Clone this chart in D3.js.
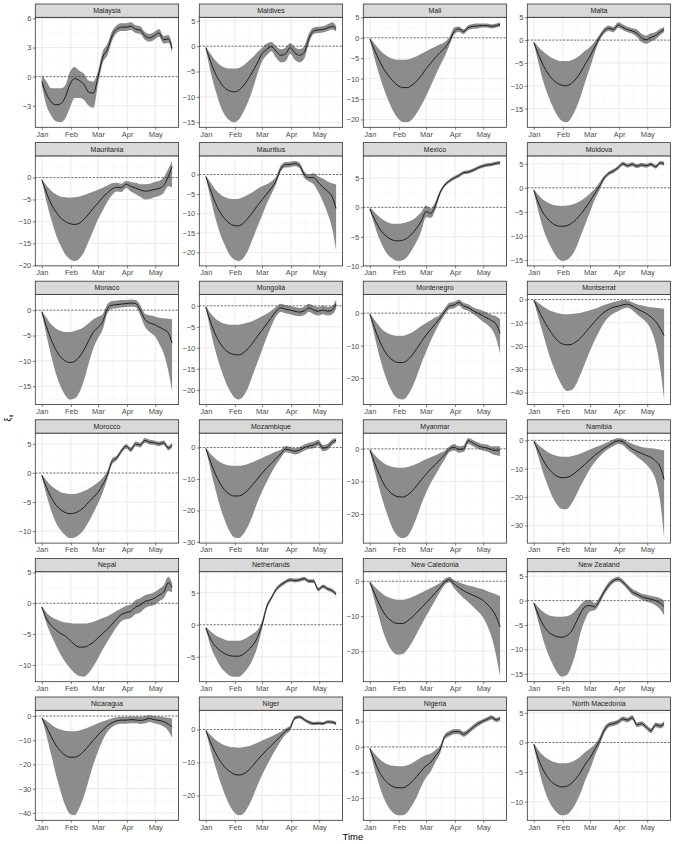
<!DOCTYPE html>
<html>
<head>
<meta charset="utf-8">
<script src="https://cdn.jsdelivr.net/npm/d3@7"></script>
<style>
    body { margin: 0; background: #ffffff; }
    svg { display: block; font-family: "Liberation Sans Narrow", "Liberation Sans", Arial, sans-serif; }
</style>
</head>
<body>
<div id="chart"></div>
<script>
// Days since 1 Jan 2020 at which the estimates were read off
const days = [0, 5, 10, 15, 20, 25, 30, 35, 40, 45, 50, 55, 60, 65, 70, 75, 80, 85, 90, 95, 100, 105, 110, 115, 120, 125, 130, 135, 139];

const countries = [
    'Malaysia', 'Maldives', 'Mali', 'Malta',
    'Mauritania', 'Mauritius', 'Mexico', 'Moldova',
    'Monaco', 'Mongolia', 'Montenegro', 'Montserrat',
    'Morocco', 'Mozambique', 'Myanmar', 'Namibia',
    'Nepal', 'Netherlands', 'New Caledonia', 'New Zealand',
    'Nicaragua', 'Niger', 'Nigeria', 'North Macedonia'
];

const yTickValues = [
    [-3, 0, 3, 6], [-15, -10, -5, 0, 5], [-20, -15, -10, -5, 0, 5], [-15, -10, -5, 0, 5],
    [-20, -15, -10, -5, 0], [-20, -15, -10, -5, 0], [-10, -5, 0, 5], [-15, -10, -5, 0, 5],
    [-15, -10, -5, 0], [-20, -15, -10, -5, 0], [-20, -10, 0], [-40, -30, -20, -10, 0],
    [-10, -5, 0, 5], [-30, -20, -10, 0], [-20, -10, 0], [-30, -20, -10, 0],
    [-10, -5, 0, 5], [-5, 0, 5], [-20, -10, 0], [-15, -10, -5, 0, 5],
    [-40, -30, -20, -10, 0], [-20, -10, 0], [-10, -5, 0, 5], [-10, -5, 0, 5]
];

const meanValues = [
    [-0.5, -1.8, -2.6, -2.9, -2.8, -2.1, -0.8, -0.2, -0.4, -0.8, -1.6, -1.7, 0.0, 2.0, 2.8, 4.2, 4.9, 5.1, 5.1, 5.2, 4.9, 4.8, 4.2, 4.0, 4.2, 4.5, 3.8, 3.9, 2.9],
    [-0.3, -3.0, -5.3, -7.0, -8.2, -8.8, -9.0, -8.7, -7.8, -6.5, -5.0, -3.3, -1.5, -0.6, -0.1, -1.0, -1.8, -1.5, -0.3, -1.3, -1.8, -1.2, 1.5, 3.0, 3.2, 3.3, 3.6, 3.9, 3.4],
    [-0.3, -3.0, -5.5, -7.7, -9.3, -10.7, -11.7, -12.2, -12.2, -11.6, -10.6, -9.2, -7.6, -6.2, -4.8, -3.6, -2.5, -0.8, 1.5, 2.2, 1.5, 2.5, 2.8, 2.9, 3.0, 3.0, 2.8, 3.0, 3.3],
    [-0.5, -3.2, -5.5, -7.3, -8.6, -9.4, -9.9, -10.0, -9.5, -8.5, -7.0, -5.2, -3.5, -1.5, 0.5, 2.0, 2.6, 2.3, 3.3, 2.8, 2.3, 2.0, 1.5, 0.5, 0.1, 0.6, 1.0, 1.8, 2.3],
    [-0.5, -3.5, -6.0, -7.8, -9.2, -10.0, -10.5, -10.7, -10.4, -9.5, -8.3, -7.0, -5.8, -4.5, -3.5, -2.6, -2.2, -2.3, -1.5, -2.0, -2.4, -2.8, -3.1, -3.0, -2.7, -2.5, -1.8, 0.2, 2.5],
    [-0.5, -4.0, -7.2, -9.6, -11.3, -12.5, -13.1, -13.2, -12.5, -11.2, -9.7, -8.0, -6.5, -5.0, -3.5, -1.5, 1.5, 2.5, 2.6, 2.8, 2.3, 0.0, -0.8, -0.8, -2.0, -3.3, -4.3, -5.8, -8.7],
    [-0.3, -2.0, -3.5, -4.5, -5.2, -5.6, -5.7, -5.6, -5.2, -4.5, -3.5, -2.3, -0.7, -1.0, 0.3, 2.5, 3.8, 4.5, 5.0, 5.4, 5.9, 6.0, 6.3, 6.7, 7.0, 7.2, 7.3, 7.5, 7.6],
    [-0.5, -3.2, -5.2, -6.5, -7.4, -7.9, -8.0, -7.9, -7.4, -6.6, -5.5, -4.2, -2.8, -1.2, 0.3, 2.0, 3.0, 3.5, 4.2, 5.0, 4.6, 4.9, 4.5, 4.8, 4.6, 4.9, 4.4, 5.2, 5.0],
    [-0.3, -3.3, -5.8, -7.8, -9.2, -10.0, -10.3, -10.1, -9.2, -7.8, -6.0, -4.3, -3.4, -2.3, 0.3, 1.0, 1.1, 1.2, 1.3, 1.4, 1.3, 0.0, -1.8, -2.5, -2.8, -3.3, -3.8, -4.5, -6.5],
    [-0.3, -3.8, -6.7, -8.8, -10.3, -11.2, -11.6, -11.7, -11.2, -10.2, -8.8, -7.3, -5.8, -4.3, -2.8, -1.3, -0.5, -0.8, -1.0, -1.3, -1.5, -1.2, -0.5, -1.0, -1.3, -1.0, -1.3, -1.0, 0.5],
    [-0.3, -4.5, -8.3, -11.3, -13.4, -14.6, -15.2, -15.2, -14.5, -13.0, -11.0, -8.8, -6.8, -5.0, -3.3, -1.5, 0.5, 2.2, 2.5, 3.3, 2.2, 1.7, 0.8, 0.0, -0.7, -1.5, -2.3, -3.5, -6.2],
    [-0.3, -4.5, -8.5, -12.0, -15.0, -17.5, -19.0, -19.5, -19.3, -18.2, -16.5, -14.2, -11.8, -9.5, -7.3, -5.5, -4.2, -3.3, -2.9, -2.3, -2.0, -2.8, -4.0, -5.0, -6.0, -7.5, -9.5, -12.5, -15.5],
    [-0.4, -2.5, -4.2, -5.5, -6.3, -6.8, -7.0, -6.9, -6.5, -5.9, -5.0, -4.2, -3.3, -2.0, -0.3, 2.0, 2.6, 3.8, 4.6, 4.0, 5.0, 4.8, 5.6, 5.3, 5.2, 5.0, 5.2, 4.3, 4.8],
    [-0.3, -4.5, -8.3, -11.3, -13.5, -14.8, -15.4, -15.4, -14.8, -13.5, -11.8, -10.0, -8.2, -6.5, -5.0, -3.5, -2.0, -0.5, -0.8, -1.2, -0.8, 0.0, 0.5, 0.8, 1.5, -0.2, 0.2, 1.8, 2.3],
    [-0.3, -4.2, -7.8, -10.8, -12.8, -14.1, -14.7, -14.8, -14.2, -13.0, -11.3, -9.5, -7.8, -6.2, -4.8, -3.3, -1.8, 0.0, 0.5, -0.2, 0.0, 2.5, 1.8, 1.0, 0.5, 0.3, -0.3, -0.5, -0.3],
    [-0.3, -3.8, -7.0, -9.6, -11.5, -12.7, -13.2, -13.1, -12.4, -11.2, -9.8, -8.3, -6.8, -5.3, -4.0, -2.8, -1.8, -0.8, -0.2, -0.5, -1.8, -3.0, -3.9, -4.6, -5.3, -6.0, -7.3, -9.5, -13.8],
    [-0.6, -2.5, -3.6, -4.3, -4.9, -5.3, -6.0, -6.7, -7.1, -7.1, -6.8, -6.3, -5.6, -4.9, -4.2, -3.4, -2.5, -1.8, -1.5, -1.3, -0.6, -0.3, 0.3, 0.5, 0.8, 1.3, 1.8, 3.3, 2.6],
    [-0.5, -2.2, -3.3, -4.0, -4.5, -4.8, -4.9, -4.9, -4.6, -4.0, -3.2, -2.0, 0.0, 2.8, 4.2, 5.5, 6.2, 6.7, 7.0, 6.9, 7.0, 7.2, 6.8, 6.8, 5.5, 6.0, 5.6, 5.3, 4.8],
    [-0.3, -3.5, -6.5, -9.0, -10.7, -11.7, -12.1, -12.1, -11.4, -10.3, -9.0, -7.6, -6.2, -4.8, -3.3, -1.8, -0.2, 0.5, -0.8, -1.8, -2.7, -3.4, -4.0, -4.6, -5.3, -6.5, -8.0, -10.2, -13.0],
    [-0.5, -3.0, -5.0, -6.3, -7.0, -7.4, -7.5, -7.2, -6.3, -4.5, -2.5, -1.2, -1.0, -1.3, 0.0, 1.8, 3.2, 4.1, 4.4, 3.8, 2.8, 1.8, 1.3, 0.8, 0.5, 0.3, 0.0, -0.5, -1.2],
    [-0.8, -4.5, -8.5, -12.0, -14.5, -16.2, -17.0, -17.0, -16.2, -14.5, -12.3, -10.0, -7.8, -5.8, -4.0, -2.8, -2.0, -1.7, -1.7, -1.5, -1.6, -1.8, -1.5, -1.0, -1.5, -1.8, -2.3, -3.3, -4.5],
    [-0.3, -3.8, -6.9, -9.4, -11.3, -12.6, -13.5, -13.8, -13.5, -12.5, -11.0, -9.3, -7.7, -6.2, -4.8, -3.4, -2.0, -0.5, 0.5, 3.5, 3.8, 3.0, 2.2, 1.8, 1.9, 1.8, 2.3, 2.2, 1.8],
    [-0.3, -2.8, -4.8, -6.3, -7.2, -7.8, -8.0, -8.0, -7.6, -6.8, -5.8, -4.7, -3.7, -3.0, -1.8, -0.5, 2.0, 2.6, 3.0, 3.0, 2.5, 3.0, 3.8, 4.5, 5.0, 5.4, 5.8, 5.3, 5.6],
    [-0.3, -2.8, -4.6, -5.9, -6.8, -7.3, -7.5, -7.4, -6.9, -6.1, -5.0, -3.6, -2.6, -1.2, 0.2, 2.0, 3.0, 3.2, 3.5, 4.0, 3.8, 4.2, 3.0, 3.2, 2.6, 2.0, 3.0, 2.8, 3.2]
];

const lowerValues = [
    [-0.9, -3.0, -4.0, -4.6, -4.7, -4.3, -3.2, -2.2, -2.2, -2.4, -3.0, -3.2, -0.8, 1.4, 2.2, 3.7, 4.5, 4.7, 4.7, 4.8, 4.5, 4.4, 3.8, 3.6, 3.8, 4.1, 3.4, 3.5, 2.5],
    [-0.5, -5.0, -8.5, -11.5, -13.5, -14.6, -15.0, -14.5, -13.0, -11.0, -8.5, -5.5, -3.0, -1.8, -1.0, -2.3, -3.2, -3.0, -1.5, -2.7, -3.2, -2.5, 0.5, 2.4, 2.6, 2.7, 3.0, 3.3, 2.9],
    [-0.5, -5.0, -9.0, -12.5, -15.5, -18.0, -19.7, -20.6, -20.7, -20.0, -18.5, -16.5, -14.3, -11.8, -9.3, -6.8, -4.5, -1.8, 0.8, 1.5, 0.9, 1.9, 2.2, 2.3, 2.5, 2.5, 2.3, 2.5, 2.8],
    [-0.7, -5.0, -9.0, -12.0, -14.5, -16.5, -17.7, -18.0, -17.0, -15.0, -12.3, -9.0, -6.0, -2.8, -0.2, 1.4, 2.0, 1.7, 2.7, 2.2, 1.7, 1.4, 0.7, -0.4, -0.8, -0.3, 0.2, 1.1, 1.8],
    [-0.6, -5.5, -9.5, -13.0, -15.5, -17.5, -18.6, -19.0, -18.5, -17.0, -14.5, -12.0, -9.5, -7.5, -5.5, -4.0, -3.2, -3.3, -2.4, -3.2, -3.8, -4.4, -5.0, -4.9, -4.5, -4.2, -3.5, -2.0, -2.3],
    [-0.7, -6.0, -11.0, -15.0, -18.0, -20.5, -21.8, -22.2, -21.5, -19.5, -16.5, -13.5, -10.5, -7.5, -5.0, -2.5, 0.8, 1.8, 1.9, 2.1, 1.6, -0.9, -1.8, -2.5, -4.5, -7.0, -10.0, -14.0, -19.5],
    [-0.5, -3.0, -5.3, -7.0, -8.2, -8.8, -9.1, -9.0, -8.4, -7.2, -5.8, -4.0, -1.7, -1.8, -0.4, 2.1, 3.5, 4.2, 4.7, 5.1, 5.6, 5.7, 6.0, 6.4, 6.7, 6.9, 7.0, 7.2, 7.3],
    [-0.7, -5.0, -8.5, -11.0, -13.0, -14.5, -15.2, -15.0, -14.2, -12.5, -10.0, -7.5, -5.0, -2.5, -0.5, 1.5, 2.6, 3.1, 3.8, 4.6, 4.2, 4.5, 4.1, 4.4, 4.2, 4.5, 4.0, 4.8, 4.6],
    [-0.5, -5.0, -9.0, -12.5, -15.0, -16.8, -17.6, -17.4, -16.2, -13.8, -10.5, -7.5, -5.5, -3.8, -0.6, 0.3, 0.4, 0.5, 0.6, 0.7, 0.6, -1.0, -3.2, -4.3, -5.0, -6.5, -8.5, -12.0, -16.0],
    [-0.5, -5.8, -10.5, -14.3, -17.5, -20.0, -21.7, -22.3, -21.5, -19.5, -16.5, -13.5, -10.5, -7.5, -4.8, -2.5, -1.4, -1.8, -2.0, -2.3, -2.5, -2.2, -1.5, -2.0, -2.3, -2.0, -2.3, -2.0, -0.7],
    [-0.5, -7.0, -13.0, -18.0, -22.0, -24.8, -26.3, -26.6, -25.5, -23.0, -19.5, -15.5, -12.0, -8.5, -5.5, -2.8, -0.5, 1.2, 1.5, 2.3, 1.2, 0.7, -0.3, -1.3, -2.5, -3.5, -5.0, -8.0, -12.5],
    [-0.5, -8.0, -15.0, -22.0, -28.0, -33.0, -37.0, -39.3, -39.0, -36.5, -32.0, -27.0, -22.0, -17.5, -13.5, -10.0, -7.5, -6.0, -5.0, -4.0, -3.5, -4.5, -6.3, -8.0, -9.8, -13.0, -19.0, -30.0, -43.0],
    [-0.6, -3.8, -6.5, -8.5, -9.8, -10.7, -11.2, -11.1, -10.6, -9.7, -8.4, -6.9, -5.2, -3.3, -1.0, 1.5, 2.2, 3.4, 4.2, 3.6, 4.6, 4.4, 5.2, 4.9, 4.8, 4.6, 4.8, 3.9, 4.4],
    [-0.5, -7.0, -13.0, -18.5, -23.0, -26.5, -28.5, -28.8, -27.5, -25.0, -21.5, -17.5, -14.0, -11.0, -8.0, -5.5, -3.3, -1.5, -1.8, -2.2, -1.8, -1.0, -0.5, -0.2, 0.5, -1.2, -0.8, 0.8, 1.5],
    [-0.5, -6.5, -12.0, -17.0, -21.3, -24.8, -26.8, -27.4, -26.8, -24.5, -21.0, -17.0, -13.5, -10.5, -8.0, -5.5, -3.2, -1.0, -0.5, -1.2, -1.0, 1.5, 0.8, 0.0, -0.5, -0.8, -1.5, -2.0, -2.2],
    [-0.5, -6.0, -11.5, -16.0, -20.0, -22.8, -24.2, -24.3, -22.5, -19.5, -16.0, -13.0, -10.0, -7.7, -5.8, -4.2, -3.0, -2.0, -1.3, -1.7, -3.2, -4.5, -5.8, -7.0, -8.5, -10.5, -14.0, -22.0, -34.5],
    [-0.8, -3.3, -5.2, -6.8, -8.3, -9.5, -10.5, -11.3, -11.8, -11.9, -11.3, -10.2, -8.9, -7.5, -6.2, -5.0, -3.8, -2.9, -2.6, -2.4, -1.8, -1.5, -0.8, -0.5, -0.3, 0.3, 0.8, 2.0, 1.8],
    [-0.7, -3.3, -5.0, -6.4, -7.3, -7.9, -8.1, -8.1, -7.6, -6.7, -5.4, -3.5, -0.6, 2.4, 3.9, 5.2, 5.9, 6.4, 6.7, 6.6, 6.7, 6.9, 6.5, 6.5, 5.2, 5.7, 5.3, 5.0, 4.5],
    [-0.5, -5.5, -10.5, -15.0, -18.3, -20.3, -21.0, -20.8, -19.5, -17.5, -15.0, -12.5, -10.0, -7.7, -5.3, -3.0, -1.0, -0.3, -2.0, -3.5, -4.8, -6.0, -7.2, -8.5, -10.0, -12.5, -16.0, -21.5, -27.3],
    [-0.7, -4.5, -8.0, -10.8, -13.0, -14.8, -15.6, -15.3, -13.5, -10.5, -6.5, -3.8, -2.2, -2.0, -0.7, 1.2, 2.6, 3.6, 3.9, 3.3, 2.3, 1.2, 0.7, 0.2, -0.2, -0.5, -1.0, -1.8, -3.0],
    [-1.0, -8.0, -16.0, -24.0, -31.0, -37.0, -40.5, -41.0, -38.0, -33.0, -26.5, -20.0, -14.5, -10.0, -6.5, -4.5, -3.5, -3.2, -3.2, -3.0, -3.0, -3.3, -3.0, -2.5, -3.0, -3.5, -4.3, -6.2, -9.0],
    [-0.5, -6.0, -11.0, -15.5, -19.5, -22.8, -25.0, -26.0, -25.5, -23.5, -20.5, -17.0, -13.8, -11.0, -8.3, -5.8, -3.5, -1.5, -0.3, 2.9, 3.3, 2.5, 1.7, 1.3, 1.4, 1.3, 1.8, 1.7, 1.3],
    [-0.5, -4.3, -7.5, -10.0, -11.8, -12.9, -13.4, -13.4, -12.8, -11.5, -9.8, -7.7, -6.0, -4.8, -3.0, -1.3, 1.5, 2.1, 2.5, 2.5, 2.0, 2.5, 3.3, 4.0, 4.6, 5.0, 5.4, 4.9, 5.2],
    [-0.5, -4.3, -7.3, -9.5, -11.0, -11.9, -12.3, -12.2, -11.5, -10.2, -8.5, -6.3, -4.5, -2.3, -0.5, 1.5, 2.6, 2.8, 3.1, 3.6, 3.4, 3.8, 2.6, 2.8, 2.2, 1.6, 2.6, 2.4, 2.8]
];

const upperValues = [
    [0.2, -0.5, -1.2, -1.2, -1.2, -0.9, 0.5, 1.0, 0.6, 0.3, -0.4, -0.5, 0.6, 2.6, 3.4, 4.7, 5.3, 5.5, 5.5, 5.6, 5.3, 5.2, 4.6, 4.4, 4.6, 4.9, 4.2, 4.3, 3.3],
    [0.0, -1.5, -2.8, -3.7, -4.2, -4.4, -4.4, -4.3, -3.8, -3.0, -2.2, -1.2, -0.3, 0.5, 0.8, 0.0, -0.6, -0.3, 0.6, -0.2, -0.6, 0.0, 2.5, 3.7, 3.8, 3.9, 4.3, 4.7, 4.0],
    [0.0, -1.4, -2.8, -3.9, -4.7, -5.2, -5.4, -5.4, -5.3, -5.0, -4.5, -3.9, -3.3, -2.7, -2.1, -1.6, -1.0, 0.2, 2.5, 2.8, 2.1, 3.1, 3.4, 3.5, 3.5, 3.5, 3.3, 3.5, 3.8],
    [-0.3, -1.5, -2.5, -3.3, -4.0, -4.4, -4.6, -4.6, -4.4, -3.9, -3.2, -2.3, -1.5, -0.3, 1.2, 2.6, 3.2, 2.9, 3.9, 3.4, 2.9, 2.6, 2.3, 1.4, 1.0, 1.5, 1.8, 2.5, 2.8],
    [-0.3, -1.8, -3.0, -3.8, -4.3, -4.5, -4.6, -4.5, -4.3, -4.0, -3.6, -3.2, -2.8, -2.3, -1.8, -1.3, -1.2, -1.4, -0.8, -1.0, -1.2, -1.5, -1.5, -1.4, -1.0, -0.8, 0.0, 2.0, 3.8],
    [-0.3, -2.0, -3.8, -5.0, -5.8, -6.2, -6.3, -6.2, -5.8, -5.2, -4.5, -3.7, -3.0, -2.5, -1.8, -0.5, 2.3, 3.2, 3.3, 3.5, 3.0, 0.8, 0.0, 0.3, -0.5, -1.0, -1.8, -2.3, -2.5],
    [0.0, -0.8, -1.6, -2.2, -2.6, -2.8, -2.8, -2.7, -2.5, -2.2, -1.6, -0.8, 0.3, -0.2, 1.0, 2.9, 4.1, 4.8, 5.3, 5.7, 6.2, 6.3, 6.6, 7.0, 7.3, 7.5, 7.6, 7.8, 7.9],
    [-0.3, -1.5, -2.5, -3.1, -3.5, -3.7, -3.8, -3.7, -3.5, -3.2, -2.7, -2.0, -1.2, -0.2, 1.1, 2.5, 3.4, 3.9, 4.6, 5.4, 5.0, 5.3, 4.9, 5.2, 5.0, 5.3, 4.8, 5.6, 5.4],
    [-0.2, -1.5, -2.8, -3.6, -4.1, -4.3, -4.3, -4.1, -3.8, -3.3, -2.6, -1.8, -1.3, -0.8, 1.2, 1.8, 1.9, 2.0, 2.0, 2.1, 2.0, 1.0, -0.7, -1.0, -1.2, -1.5, -1.6, -1.7, -1.8],
    [0.0, -1.8, -3.0, -3.8, -4.3, -4.5, -4.5, -4.5, -4.3, -4.0, -3.6, -3.1, -2.5, -1.9, -1.2, -0.2, 0.5, 0.2, 0.0, -0.3, -0.5, -0.2, 0.5, 0.0, -0.3, 0.0, -0.3, 0.0, 1.5],
    [0.0, -2.0, -4.0, -5.5, -6.3, -6.8, -7.0, -7.0, -6.6, -6.0, -5.0, -4.0, -3.0, -2.2, -1.3, -0.4, 1.5, 3.2, 3.5, 4.2, 3.2, 2.7, 1.8, 1.3, 0.8, 0.2, -0.5, -1.0, -1.8],
    [-0.1, -1.5, -3.0, -4.3, -5.2, -5.8, -6.2, -6.3, -6.2, -6.0, -5.7, -5.2, -4.6, -4.0, -3.2, -2.4, -1.7, -1.1, -0.6, -0.2, -0.3, -1.2, -2.0, -2.5, -3.0, -3.3, -3.6, -3.8, -4.0],
    [-0.2, -1.3, -2.2, -2.8, -3.3, -3.5, -3.6, -3.6, -3.4, -3.1, -2.7, -2.2, -1.6, -0.8, 0.4, 2.5, 3.0, 4.2, 5.0, 4.4, 5.4, 5.2, 6.0, 5.7, 5.6, 5.4, 5.6, 4.7, 5.2],
    [0.0, -2.0, -3.5, -4.6, -5.3, -5.7, -5.8, -5.8, -5.6, -5.2, -4.6, -4.0, -3.3, -2.6, -2.0, -1.3, -0.7, 0.5, 0.2, -0.2, 0.2, 1.0, 1.5, 1.8, 2.5, 0.8, 1.2, 2.6, 3.0],
    [0.0, -1.8, -3.3, -4.4, -5.2, -5.6, -5.8, -5.8, -5.6, -5.2, -4.6, -3.9, -3.2, -2.6, -2.0, -1.3, -0.6, 0.8, 1.5, 0.8, 1.0, 3.3, 2.7, 2.0, 1.5, 1.3, 0.8, 0.8, 0.8],
    [0.0, -1.6, -3.0, -4.2, -5.0, -5.5, -5.8, -5.8, -5.6, -5.2, -4.6, -3.9, -3.2, -2.5, -1.9, -1.2, -0.5, 0.3, 0.8, 0.6, -0.5, -1.2, -1.8, -2.3, -2.6, -2.8, -3.0, -3.3, -3.5],
    [-0.4, -1.5, -2.2, -2.6, -2.9, -3.1, -3.2, -3.3, -3.3, -3.3, -3.2, -3.0, -2.7, -2.4, -2.1, -1.7, -1.2, -0.8, -0.4, -0.2, 0.5, 0.8, 1.3, 1.5, 1.8, 2.3, 2.9, 4.3, 3.3],
    [-0.3, -1.0, -1.6, -2.0, -2.3, -2.5, -2.5, -2.5, -2.3, -1.9, -1.4, -0.8, 0.6, 3.2, 4.5, 5.8, 6.5, 7.0, 7.3, 7.2, 7.3, 7.5, 7.1, 7.1, 5.8, 6.3, 5.9, 5.6, 5.1],
    [0.0, -1.5, -2.8, -3.9, -4.6, -5.1, -5.3, -5.3, -5.0, -4.5, -3.9, -3.3, -2.6, -1.9, -1.2, -0.5, 0.7, 1.3, 0.3, -0.3, -0.8, -1.2, -1.5, -1.9, -2.2, -2.8, -3.3, -3.8, -4.2],
    [-0.3, -1.4, -2.3, -2.9, -3.2, -3.3, -3.3, -3.2, -2.8, -1.9, -0.8, 0.0, 0.2, -0.5, 0.7, 2.4, 3.8, 4.6, 4.9, 4.3, 3.3, 2.4, 1.9, 1.4, 1.2, 1.0, 0.8, 0.5, 0.0],
    [-0.6, -2.0, -3.5, -4.8, -5.6, -6.1, -6.3, -6.3, -6.0, -5.4, -4.6, -3.8, -3.0, -2.3, -1.5, -0.9, -0.5, -0.3, -0.3, -0.2, -0.2, -0.3, 0.0, 0.3, 0.0, -0.2, -0.5, -0.7, -1.0],
    [0.0, -1.7, -3.0, -4.0, -4.8, -5.2, -5.4, -5.5, -5.4, -5.1, -4.6, -4.0, -3.3, -2.7, -2.1, -1.4, -0.7, 0.3, 1.2, 4.0, 4.3, 3.5, 2.7, 2.3, 2.4, 2.3, 2.8, 2.7, 2.3],
    [-0.1, -1.3, -2.3, -3.0, -3.5, -3.7, -3.8, -3.8, -3.6, -3.2, -2.6, -2.0, -1.6, -1.3, -0.6, 0.3, 2.5, 3.1, 3.5, 3.5, 3.0, 3.5, 4.3, 5.0, 5.4, 5.8, 6.2, 5.7, 6.0],
    [-0.1, -1.3, -2.2, -2.8, -3.2, -3.4, -3.5, -3.5, -3.3, -2.9, -2.3, -1.6, -1.0, -0.3, 0.9, 2.6, 3.4, 3.6, 3.9, 4.4, 4.2, 4.6, 3.4, 3.6, 3.0, 2.4, 3.4, 3.2, 3.6]
];

// Layout of the facet grid, in pixels
const COLUMNS = 4;
const PANEL_LEFT = 35.3;
const PANEL_STEP_X = 164;
const PANEL_WIDTH = 143.3;
const PANEL_TOP = 4;
const PANEL_STEP_Y = 138.6;
const PANEL_HEIGHT = 123.3;
const STRIP_HEIGHT = 13.3;
const START_DATE = new Date(Date.UTC(2020, 0, 1));

class FacetChart {

    init() {
        this.svg = d3.select('#chart').append('svg')
            .attr('width', 675)
            .attr('height', 844);
        this.x = this.createTimeScale();
    }

    draw() {
        countries.forEach((name, i) => this.drawPanel(i));
        this.drawAxisTitles();
    }

    dayToDate(day) {
        return d3.utcDay.offset(START_DATE, day);
    }

    createTimeScale() {
        const first = days[0];
        const last = days[days.length - 1];
        const pad = (last - first) * 0.05;
        return d3.scaleUtc()
            .domain([first - pad, last + pad].map(d => new Date(START_DATE.getTime() + d * 864e5)))
            .range([0, PANEL_WIDTH]);
    }

    createValueScale(index) {
        // ggplot trains the scale on the ribbon and the hline at zero
        const lo = Math.min(0, d3.min(lowerValues[index]));
        const hi = Math.max(0, d3.max(upperValues[index]));
        const pad = (hi - lo) * 0.05;
        return d3.scaleLinear()
            .domain([lo - pad, hi + pad])
            .range([PANEL_HEIGHT, STRIP_HEIGHT]);
    }

    minorBreaks(ticks, domain) {
        const step = ticks[1] - ticks[0];
        const candidates = [ticks[0] - step / 2, ...ticks.map(t => t + step / 2)];
        return candidates.filter(v => v > domain[0] && v < domain[1]);
    }

    drawPanel(index) {
        const col = index % COLUMNS;
        const row = Math.floor(index / COLUMNS);
        const g = this.svg.append('g')
            .attr('transform', `translate(${PANEL_LEFT + col * PANEL_STEP_X},${PANEL_TOP + row * PANEL_STEP_Y})`);
        const y = this.createValueScale(index);

        this.drawGrid(g, y, yTickValues[index]);
        this.drawSeries(g, y, index);
        this.drawFrame(g, countries[index]);
        this.drawAxes(g, y, yTickValues[index]);
    }

    drawGrid(g, y, ticks) {
        const x = this.x;
        const monthStarts = d3.utcMonth.range(d3.utcMonth.floor(x.domain()[0]), d3.utcMonth.offset(x.domain()[1], 1));
        const xMajor = monthStarts.filter(d => d >= x.domain()[0] && d <= x.domain()[1]);
        const xMinor = d3.pairs(monthStarts)
            .map(([a, b]) => new Date((a.getTime() + b.getTime()) / 2))
            .filter(d => d >= x.domain()[0] && d <= x.domain()[1]);
        const yMinor = this.minorBreaks(ticks, y.domain());

        const grid = g.append('g').attr('class', 'grid');
        grid.selectAll('line.vminor').data(xMinor).join('line')
            .attr('x1', d => x(d)).attr('x2', d => x(d))
            .attr('y1', STRIP_HEIGHT).attr('y2', PANEL_HEIGHT)
            .attr('stroke', '#f4f4f4').attr('stroke-width', 0.5);
        grid.selectAll('line.hminor').data(yMinor).join('line')
            .attr('x1', 0).attr('x2', PANEL_WIDTH)
            .attr('y1', d => y(d)).attr('y2', d => y(d))
            .attr('stroke', '#f4f4f4').attr('stroke-width', 0.5);
        grid.selectAll('line.vmajor').data(xMajor).join('line')
            .attr('x1', d => x(d)).attr('x2', d => x(d))
            .attr('y1', STRIP_HEIGHT).attr('y2', PANEL_HEIGHT)
            .attr('stroke', '#e6e6e6').attr('stroke-width', 0.8);
        grid.selectAll('line.hmajor').data(ticks).join('line')
            .attr('x1', 0).attr('x2', PANEL_WIDTH)
            .attr('y1', d => y(d)).attr('y2', d => y(d))
            .attr('stroke', '#e6e6e6').attr('stroke-width', 0.8);
    }

    drawSeries(g, y, index) {
        const x = this.x;
        const rows = days.map((day, i) => ({
            date: this.dayToDate(day),
            mean: meanValues[index][i],
            lower: lowerValues[index][i],
            upper: upperValues[index][i]
        }));

        g.append('path')
            .datum(rows)
            .attr('fill', '#8c8c8c')
            .attr('d', d3.area()
                .curve(d3.curveMonotoneX)
                .x(d => x(d.date))
                .y0(d => y(d.lower))
                .y1(d => y(d.upper)));

        g.append('line')
            .attr('x1', 0).attr('x2', PANEL_WIDTH)
            .attr('y1', y(0)).attr('y2', y(0))
            .attr('stroke', '#222')
            .attr('stroke-width', 0.6)
            .attr('stroke-dasharray', '2,1.6');

        g.append('path')
            .datum(rows)
            .attr('fill', 'none')
            .attr('stroke', '#111')
            .attr('stroke-width', 0.9)
            .attr('d', d3.line()
                .curve(d3.curveMonotoneX)
                .x(d => x(d.date))
                .y(d => y(d.mean)));
    }

    drawFrame(g, name) {
        g.append('rect')
            .attr('x', 0).attr('y', STRIP_HEIGHT)
            .attr('width', PANEL_WIDTH).attr('height', PANEL_HEIGHT - STRIP_HEIGHT)
            .attr('fill', 'none')
            .attr('stroke', '#333')
            .attr('stroke-width', 0.8);
        g.append('rect')
            .attr('x', 0).attr('y', 0)
            .attr('width', PANEL_WIDTH).attr('height', STRIP_HEIGHT)
            .attr('fill', '#d9d9d9')
            .attr('stroke', '#333')
            .attr('stroke-width', 0.8);
        g.append('text')
            .attr('x', PANEL_WIDTH / 2)
            .attr('y', STRIP_HEIGHT / 2)
            .attr('dy', '0.35em')
            .attr('text-anchor', 'middle')
            .attr('font-size', 7)
            .attr('fill', '#1a1a1a')
            .text(name);
    }

    drawAxes(g, y, ticks) {
        const yAxis = g.append('g')
            .call(d3.axisLeft(y).tickValues(ticks).tickFormat(d3.format('d')).tickSize(2.5).tickPadding(1.5));
        const xAxis = g.append('g')
            .attr('transform', `translate(0,${PANEL_HEIGHT})`)
            .call(d3.axisBottom(this.x).ticks(d3.utcMonth.every(1)).tickFormat(d3.utcFormat('%b')).tickSize(2.5).tickPadding(1.5));
        [yAxis, xAxis].forEach(axis => {
            axis.select('.domain').remove();
            axis.selectAll('.tick line').attr('stroke', '#333').attr('stroke-width', 0.6);
            axis.selectAll('.tick text')
                .attr('fill', '#4d4d4d')
                .attr('font-size', 7.5);
            axis.attr('font-family', null).attr('font-size', null);
        });
    }

    drawAxisTitles() {
        const centerX = PANEL_LEFT + ((COLUMNS - 1) * PANEL_STEP_X + PANEL_WIDTH) / 2;
        this.svg.append('text')
            .attr('x', centerX)
            .attr('y', 840)
            .attr('text-anchor', 'middle')
            .attr('font-size', 9.5)
            .attr('fill', '#000')
            .text('Time');

        const yLabel = this.svg.append('text')
            .attr('transform', 'translate(11,418) rotate(-90)')
            .attr('text-anchor', 'middle')
            .attr('font-size', 8.5)
            .attr('fill', '#000');
        yLabel.append('tspan').text('ξ');
        yLabel.append('tspan').attr('font-size', 6).attr('dy', 2).text('it');
    }
}

const chart = new FacetChart();
chart.init();
chart.draw();
</script>
</body>
</html>
